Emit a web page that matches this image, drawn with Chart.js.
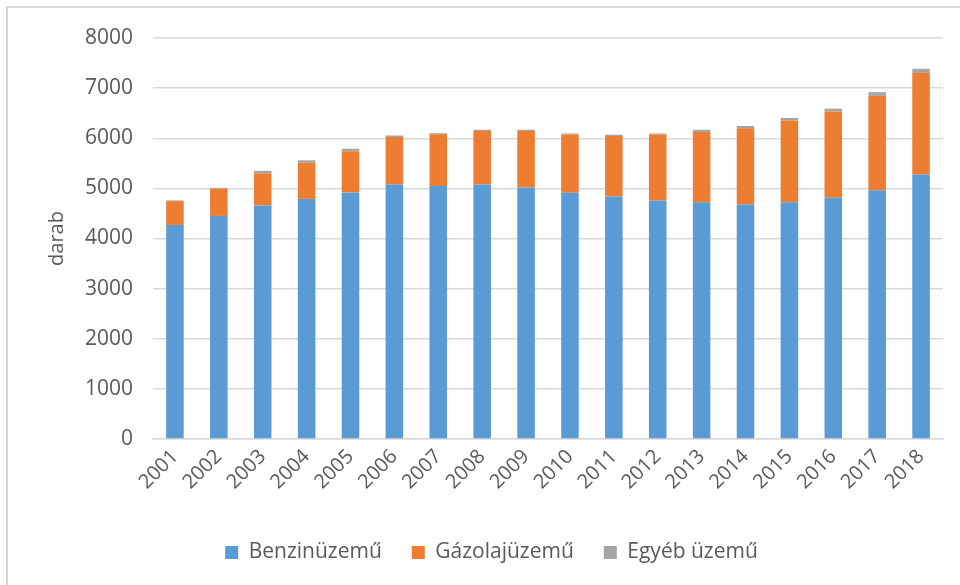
<!DOCTYPE html>
<html>
<head>
<meta charset="utf-8">
<script src="https://cdn.jsdelivr.net/npm/chart.js@4"></script>
<style>
  body { margin: 0; background: #fff; }
  #wrap { position: relative; width: 960px; height: 585px; }
  #frame { position: absolute; left: 6px; top: 6px; right: -10px; bottom: -10px; border-left: 2px solid #d9d9d9; border-top: 2px solid #d9d9d9; }
  canvas { position: absolute; left: 0; top: 0; }
</style>
</head>
<body>
<div id="wrap">
  <div id="frame"></div>
  <canvas id="myChart" width="960" height="585"></canvas>
</div>
<script>
const years = ['2001', '2002', '2003', '2004', '2005', '2006', '2007', '2008', '2009',
  '2010', '2011', '2012', '2013', '2014', '2015', '2016', '2017', '2018'];
const benzin = [4270, 4450, 4660, 4790, 4920, 5075, 5045, 5075, 5015, 4915, 4840, 4760, 4725, 4680, 4725, 4815, 4965, 5275];
const gazolaj = [475, 540, 640, 720, 820, 950, 1035, 1070, 1130, 1160, 1205, 1315, 1400, 1520, 1630, 1720, 1880, 2030];
const egyeb = [15, 20, 50, 50, 50, 30, 20, 25, 25, 20, 25, 20, 45, 45, 50, 55, 75, 80];
const yTicks = [0, 1000, 2000, 3000, 4000, 5000, 6000, 7000, 8000];

const textColor = '#595959';
const gridColor = '#d9d9d9';
const font = { family: 'Open Sans', size: 20 };

const ctx = document.getElementById('myChart');

const chart = new Chart(ctx, {
  type: 'bar',
  data: {
    labels: years,
    datasets: [
      { label: 'Benzinüzemű', data: benzin, backgroundColor: '#5B9BD5' },
      { label: 'Gázolajüzemű', data: gazolaj, backgroundColor: '#ED7D31' },
      { label: 'Egyéb üzemű', data: egyeb, backgroundColor: '#A5A5A5' }
    ]
  },
  options: {
    responsive: false,
    animation: false,
    layout: { padding: { left: 40, right: 17, top: 38, bottom: 12 } },
    datasets: {
      bar: { categoryPercentage: 1, barPercentage: 0.4, borderWidth: 0 }
    },
    plugins: {
      legend: {
        position: 'bottom',
        labels: {
          color: textColor,
          font: { family: 'Open Sans', size: 21 },
          boxWidth: 13,
          boxHeight: 13,
          padding: 30
        }
      },
      tooltip: { enabled: false }
    },
    scales: {
      x: {
        stacked: true,
        grid: { display: false, drawTicks: false },
        border: { color: gridColor, width: 1.5 },
        ticks: {
          color: textColor,
          font: font,
          maxRotation: 45,
          minRotation: 45,
          padding: 6
        },
        afterFit: (scale) => { scale.height = 73; }
      },
      y: {
        stacked: true,
        min: 0,
        max: 8000,
        afterBuildTicks: (scale) => { scale.ticks = yTicks.map(v => ({ value: v })); },
        grid: { color: gridColor, lineWidth: 1.5, drawTicks: false },
        border: { display: false },
        ticks: {
          color: textColor,
          font: { family: 'Open Sans', size: 21 },
          padding: 20,
          callback: (v) => String(v)
        },
        title: {
          display: true,
          text: 'darab',
          color: textColor,
          font: font,
          padding: { top: 5, bottom: 0 }
        },
        afterFit: (scale) => { scale.width = 113; }
      }
    }
  }
});
</script>
</body>
</html>
